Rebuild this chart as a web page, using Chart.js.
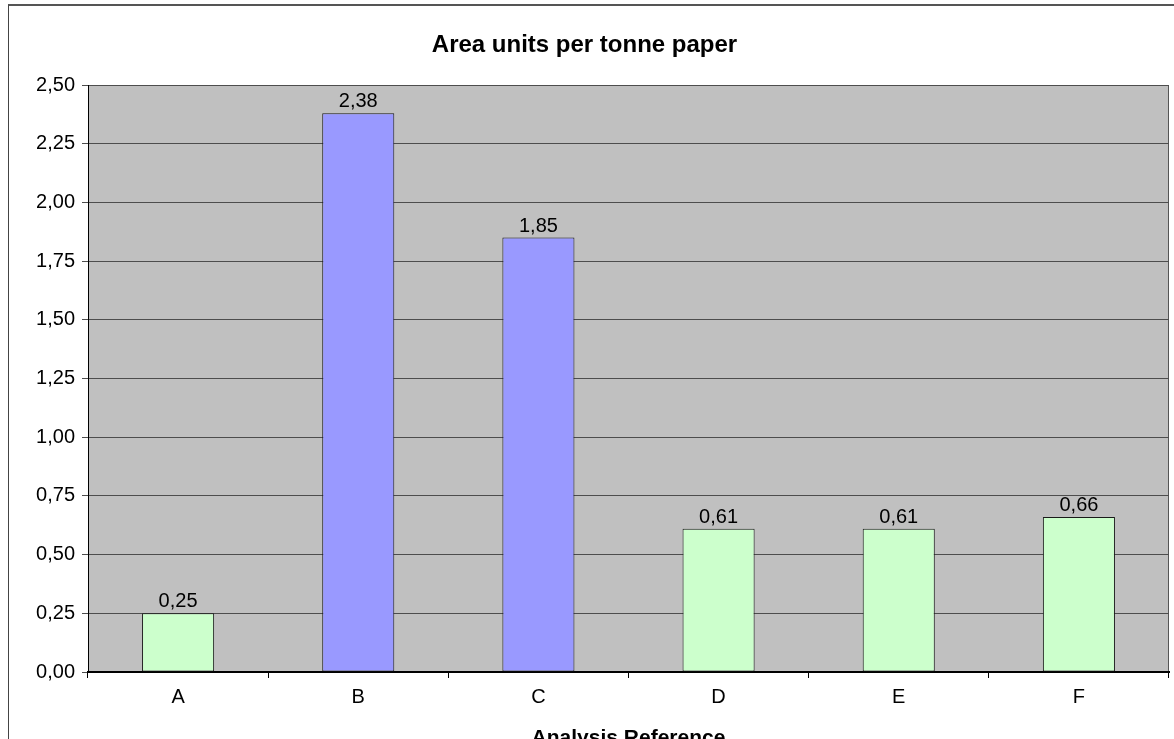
<!DOCTYPE html>
<html>
<head>
<meta charset="utf-8">
<title>Area units per tonne paper</title>
<script src="https://cdn.jsdelivr.net/npm/chart.js@4/dist/chart.umd.min.js"></script>
<style>
  html, body { margin: 0; padding: 0; background: #fff; }
  #wrap { position: relative; width: 1174px; height: 739px; overflow: hidden; }
  #frame { position: absolute; left: 8px; top: 4px; width: 1300px; height: 900px;
           border: 1px solid #444; border-top: 2px solid #555; box-sizing: border-box; }
  #chart { position: absolute; left: 0; top: 0; }
</style>
</head>
<body>
<div id="wrap">
  <div id="frame"></div>
  <canvas id="chart" width="1174" height="770"></canvas>
</div>
<script>
// Analysis references along the x axis
const categories = ['A', 'B', 'C', 'D', 'E', 'F'];
// Area units per tonne of paper
const values = [0.25, 2.38, 1.85, 0.61, 0.61, 0.66];
// Value axis
const yMin = 0;
const yMax = 2.5;
const yStep = 0.25;

const FONT = "'Liberation Sans', Arial, sans-serif";
const fmt = v => v.toFixed(2).replace('.', ',');

// Grey plot background and right edge of the plot area
const plotBackground = {
  id: 'plotBackground',
  beforeDraw(chart) {
    const { ctx, chartArea: a } = chart;
    ctx.save();
    ctx.fillStyle = '#C0C0C0';
    ctx.fillRect(a.left, a.top, a.right - a.left, a.bottom - a.top);
    ctx.strokeStyle = '#555';
    ctx.lineWidth = 1;
    ctx.beginPath();
    ctx.moveTo(Math.round(a.right) - 0.5, a.top);
    ctx.lineTo(Math.round(a.right) - 0.5, a.bottom);
    ctx.stroke();
    ctx.restore();
  }
};

// Value labels above each bar
const barLabels = {
  id: 'barLabels',
  afterDatasetsDraw(chart) {
    const { ctx } = chart;
    chart.data.datasets.forEach((ds, i) => {
      const meta = chart.getDatasetMeta(i);
      meta.data.forEach((bar, j) => {
        ctx.save();
        ctx.font = '20px ' + FONT;
        ctx.fillStyle = '#000';
        ctx.textAlign = 'center';
        ctx.textBaseline = 'alphabetic';
        ctx.fillText(fmt(ds.data[j]), bar.x, bar.y - 6);
        ctx.restore();
      });
    });
  }
};

new Chart(document.getElementById('chart'), {
  type: 'bar',
  data: {
    labels: categories,
    datasets: [{
      data: values,
      backgroundColor: ['#CCFFCC', '#9999FF', '#9999FF', '#CCFFCC', '#CCFFCC', '#CCFFCC'],
      borderColor: '#1a1a1a',
      borderWidth: 1,
      borderSkipped: false,
      categoryPercentage: 1.0,
      barPercentage: 0.4
    }]
  },
  options: {
    responsive: false,
    animation: false,
    devicePixelRatio: 1,
    layout: { padding: { left: 0, right: 5, top: 0, bottom: 0 } },
    plugins: {
      legend: { display: false },
      tooltip: { enabled: false },
      title: {
        display: true,
        text: 'Area units per tonne paper',
        color: '#000',
        font: { family: FONT, size: 24, weight: 'bold' },
        padding: { top: 31, bottom: 25.2 }
      }
    },
    scales: {
      x: {
        type: 'category',
        offset: true,
        afterFit(scale) { scale.height = 98; },
        grid: { offset: true, drawOnChartArea: false, drawTicks: true, tickLength: 6, color: '#000', lineWidth: 1 },
        border: { display: true, color: '#000', width: 2 },
        ticks: { color: '#000', font: { family: FONT, size: 20 }, padding: 7 },
        title: {
          display: true,
          text: 'Analysis Reference',
          color: '#000',
          font: { family: FONT, size: 21, weight: 'bold' },
          padding: { top: 0, bottom: 19 }
        }
      },
      y: {
        min: yMin,
        max: yMax,
        afterFit(scale) { scale.width = 88; },
        grid: { color: '#4d4d4d', lineWidth: 1, tickLength: 6, drawTicks: true },
        border: { display: true, color: '#000', width: 1 },
        ticks: {
          stepSize: yStep,
          color: '#000',
          font: { family: FONT, size: 20 },
          padding: 7,
          callback: v => fmt(v)
        }
      }
    }
  },
  plugins: [plotBackground, barLabels]
});
</script>
</body>
</html>
